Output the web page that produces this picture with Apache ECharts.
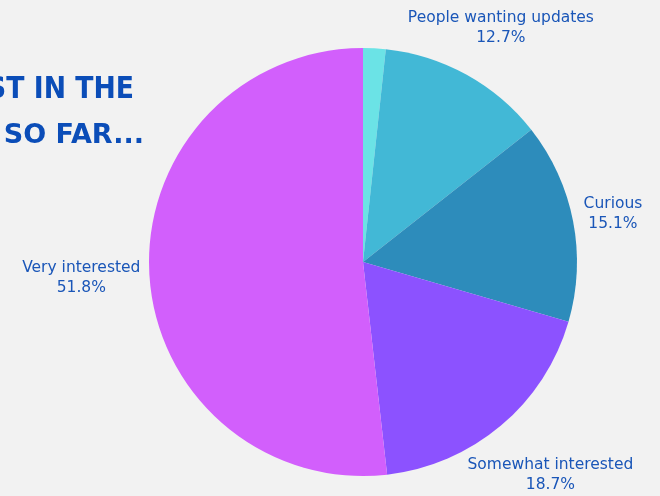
<!DOCTYPE html>
<html>
<head>
<meta charset="utf-8">
<script src="https://cdn.jsdelivr.net/npm/echarts@6/dist/echarts.min.js"></script>
<style>
html,body{margin:0;padding:0;background:#f2f2f2;}
#chart{width:660px;height:496px;}
</style>
</head>
<body>
<div id="chart"></div>
<script>
// Data
const categories = ['Other', 'People wanting updates', 'Curious', 'Somewhat interested', 'Very interested'];
const values = [1.7, 12.7, 15.1, 18.7, 51.8];
const showLabel = [false, true, true, true, true];
const colors = ['#6be3e6', '#42b8d6', '#2d8cbb', '#8c52ff', '#d25ffc'];
const titleLines = ['INTEREST IN THE', 'SO FAR...'];

const W = 660, H = 496;
const CX = 363, CY = 262, R = 214, GAP = 8, MARGIN = 1;
const total = values.reduce((a, b) => a + b, 0);

const chart = echarts.init(document.getElementById('chart'), null, {renderer: 'canvas'});

function midAngle(i) {
  let cum = 0;
  for (let k = 0; k < i; k++) cum += values[k];
  return (cum + values[i] / 2) / total * Math.PI * 2;
}

const option = {
  backgroundColor: '#f2f2f2',
  animation: false,
  graphic: [
    {type: 'text', x: 134, y: 74, scaleX: 0.86,
     style: {x: 0, y: 0, text: titleLines[0], fill: '#0b4db8',
             font: 'bold 31px "DejaVu Sans"', textAlign: 'right', textVerticalAlign: 'top'}},
    {type: 'text', x: 144, y: 123, scaleX: 1.04,
     style: {x: 0, y: 0, text: titleLines[1], fill: '#0b4db8',
             font: 'bold 26px "DejaVu Sans"', textAlign: 'right', textVerticalAlign: 'top'}}
  ],
  series: [{
    type: 'pie',
    center: [CX, CY],
    radius: R,
    startAngle: 90,
    clockwise: true,
    avoidLabelOverlap: false,
    itemStyle: {borderWidth: 0},
    emphasis: {disabled: true},
    label: {
      show: true,
      position: 'inside',
      formatter: p => p.name + '\n' + p.value + '%',
      color: '#1a56b8',
      fontFamily: 'DejaVu Sans',
      fontSize: 15.5,
      lineHeight: 20,
      align: 'center'
    },
    labelLine: {show: false},
    labelLayout: function (params) {
      const i = params.dataIndex;
      const w = params.labelRect.width, h = params.labelRect.height;
      const a = midAngle(i);
      const ux = Math.sin(a), uy = -Math.cos(a);
      const ext = Math.abs(ux) * w / 2 + Math.abs(uy) * h / 2;
      const d = R + GAP + ext;
      let x = CX + ux * d, y = CY + uy * d;
      y = Math.max(h / 2 + MARGIN + 7, Math.min(H - h / 2 - MARGIN, y));
      x = Math.max(w / 2 + MARGIN, Math.min(W - w / 2 - MARGIN, x));
      return {x: x, y: y, align: 'center', verticalAlign: 'middle'};
    },
    data: categories.map((c, i) => ({
      name: c,
      value: values[i],
      itemStyle: {color: colors[i]},
      label: {show: showLabel[i]}
    }))
  }]
};
chart.setOption(option);
</script>
</body>
</html>
